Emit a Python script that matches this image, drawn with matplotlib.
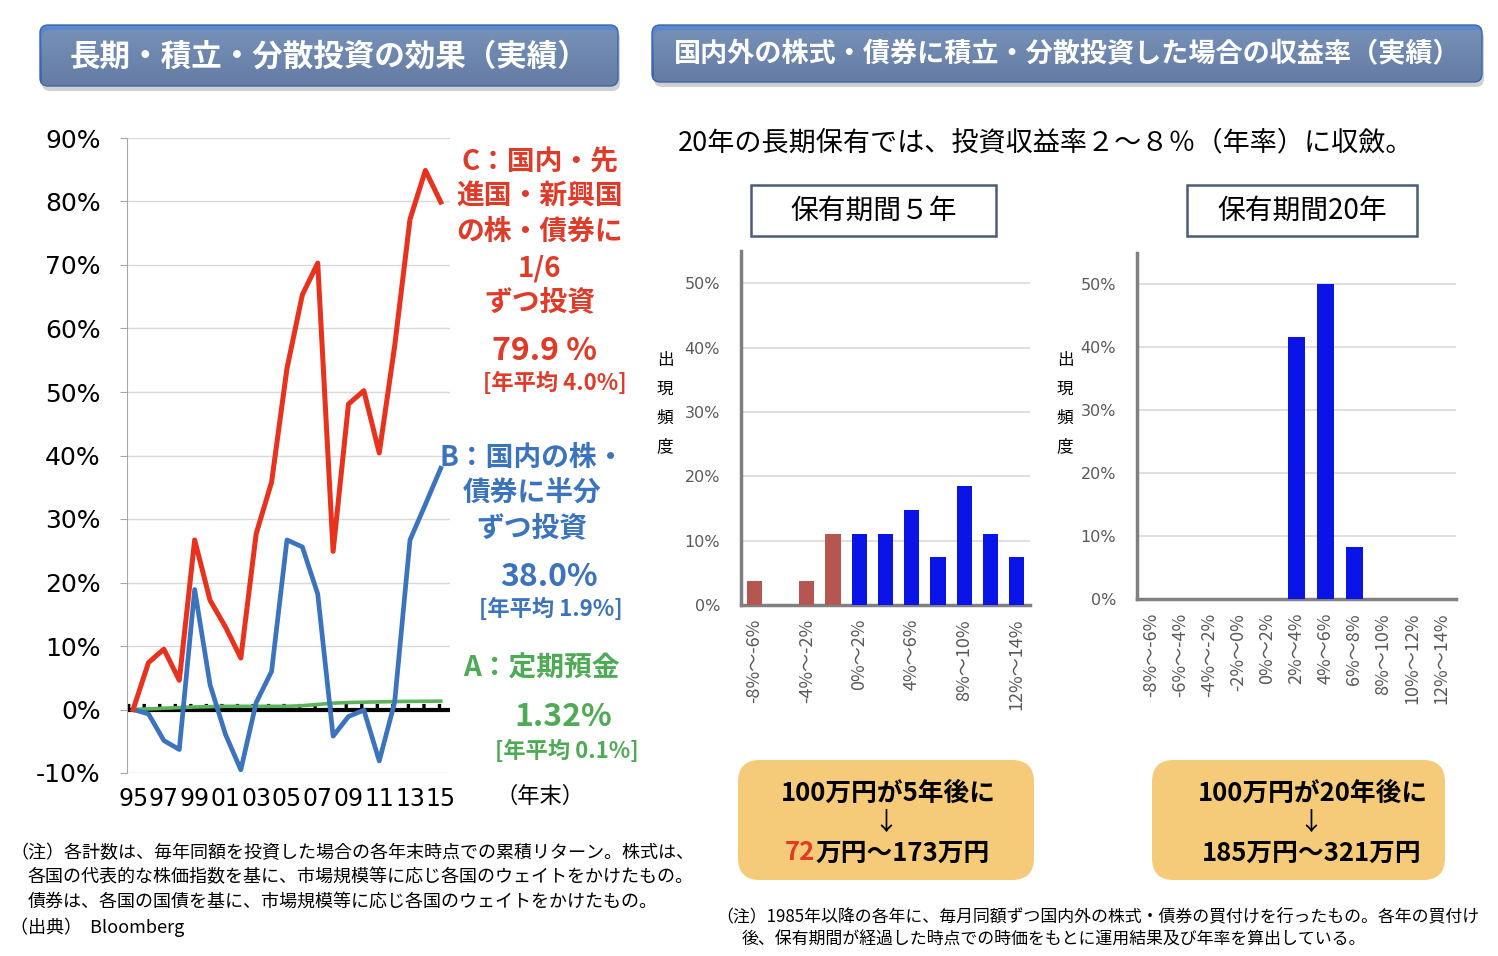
import matplotlib
matplotlib.use('Agg')
import matplotlib.pyplot as plt
import numpy as np
from matplotlib.patches import FancyBboxPatch, Rectangle
from matplotlib.colors import LinearSegmentedColormap

plt.rcParams['font.family'] = ['Noto Sans CJK JP', 'DejaVu Sans']

W, H = 1498, 956

# --- 累積リターン（年末） ---
years = list(range(1995, 2016))
ret_c = [0.0, 7.4, 9.5, 4.6, 26.7, 17.2, 13.0, 8.1, 27.7, 35.8, 53.7,
         65.3, 70.3, 24.9, 48.1, 50.2, 40.4, 57.2, 77.2, 84.9, 79.9]
ret_b = [0.0, -0.7, -4.9, -6.3, 18.9, 3.9, -3.9, -9.5, 1.1, 6.0, 26.7,
         25.6, 18.2, -4.2, -1.1, -0.1, -8.1, 1.1, 26.7, 32.3, 38.0]
ret_a = [0.0, 0.1, 0.2, 0.3, 0.4, 0.45, 0.5, 0.5, 0.5, 0.5, 0.5,
         0.6, 0.8, 1.0, 1.1, 1.15, 1.2, 1.25, 1.28, 1.3, 1.32]
year_ticks = [1995, 1997, 1999, 2001, 2003, 2005, 2007, 2009, 2011, 2013, 2015]
year_labels = ['95', '97', '99', '01', '03', '05', '07', '09', '11', '13', '15']

# --- 収益率の分布 ---
bins = ['-8%～-6%', '-6%～-4%', '-4%～-2%', '-2%～0%', '0%～2%', '2%～4%',
        '4%～6%', '6%～8%', '8%～10%', '10%～12%', '12%～14%']
freq_5y = [3.7, 0.0, 3.7, 11.1, 11.1, 11.1, 14.8, 7.4, 18.5, 11.1, 7.4]
freq_20y = [0.0, 0.0, 0.0, 0.0, 0.0, 41.7, 50.0, 8.3, 0.0, 0.0, 0.0]

fig = plt.figure(figsize=(W / 100, H / 100), dpi=100)


def frac(x0, y0, x1, y1):
    return [x0 / W, 1 - y1 / H, (x1 - x0) / W, (y1 - y0) / H]


# 左：累積リターンの推移
ax1 = fig.add_axes(frac(127, 138, 450, 773))
ax1.set_facecolor('none')
ax1.set_xlim(1994.6, 2015.6)
ax1.set_ylim(-10, 90)
ax1.set_yticks(range(-10, 91, 10))
ax1.set_yticklabels([f'{v}%' for v in range(-10, 91, 10)], family='DejaVu Sans', fontsize=18)
ax1.set_xticks(year_ticks)
ax1.set_xticklabels(year_labels, family='DejaVu Sans', fontsize=17)
ax1.tick_params(axis='y', length=5, color='#A6A6A6', pad=14)
ax1.tick_params(axis='x', length=0, pad=10)
ax1.grid(axis='y', color='#D9D9D9', lw=1)
ax1.set_axisbelow(True)
for s in ['top', 'right', 'bottom']:
    ax1.spines[s].set_visible(False)
ax1.spines['left'].set_color('#A6A6A6')
ax1.plot([1994.6, 2015.6], [0, 0], color='black', lw=3, zorder=2)
ax1.plot([1994.6, 2015.6], [0.6, 0.6], color='black', lw=3,
         linestyle=(0, (0.8, 2.93)), zorder=2)
ax1.plot(years, ret_a, color='#5CB35C', lw=2.6, zorder=3)
ax1.plot(years, ret_b, color='#3B73BD', lw=3.4, zorder=4)
ax1.plot(years, ret_c, color='#E8321E', lw=3.6, zorder=5)


def hist(rect, freq, tick_idx):
    ax = fig.add_axes(frac(*rect))
    ax.set_facecolor('none')
    x = np.arange(len(bins))
    cols = ['#B65650' if b.startswith('-') else '#0A14E6' for b in bins]
    ax.bar(x, freq, width=0.58, color=cols, zorder=3)
    ax.set_xlim(-0.5, len(bins) - 0.5)
    ax.set_ylim(0, 55)
    ax.set_yticks(range(0, 51, 10))
    ax.set_yticklabels([f'{v}%' for v in range(0, 51, 10)], family='DejaVu Sans',
                       fontsize=11.5, color='#595959')
    ax.set_xticks(tick_idx)
    ax.set_xticklabels([bins[i] for i in tick_idx], rotation=90, fontsize=13,
                       color='#595959', va='top')
    ax.tick_params(axis='y', length=0, pad=15)
    ax.tick_params(axis='x', length=0, pad=10)
    ax.grid(axis='y', color='#D9D9D9', lw=1.2)
    ax.set_axisbelow(True)
    for s in ['top', 'right']:
        ax.spines[s].set_visible(False)
    for s in ['left', 'bottom']:
        ax.spines[s].set_color('#808080')
        ax.spines[s].set_linewidth(2.5)
    return ax


hist((741, 251, 1030, 605), freq_5y, [0, 2, 4, 6, 8, 10])
hist((1137, 253, 1456, 599), freq_20y, list(range(len(bins))))

# 装飾・テキスト用のオーバーレイ
ov = fig.add_axes([0, 0, 1, 1], zorder=10)
ov.set_xlim(0, W)
ov.set_ylim(H, 0)
ov.axis('off')
ov.patch.set_alpha(0)

hdr_cmap = LinearSegmentedColormap.from_list('hdr', ['#5B8BD3', '#3A64AB'])
grad = np.linspace(0, 1, 256).reshape(-1, 1)


def header(x0, y0, x1, y1, text, size):
    sh = FancyBboxPatch((x0 + 2, y0 + 5), x1 - x0, y1 - y0,
                        boxstyle='round,pad=0,rounding_size=8',
                        fc='#9A9A9A', ec='none', alpha=0.45)
    ov.add_patch(sh)
    box = FancyBboxPatch((x0, y0), x1 - x0, y1 - y0,
                         boxstyle='round,pad=0,rounding_size=8',
                         fc='none', ec='#3D64A6', lw=1)
    ov.add_patch(box)
    im = ov.imshow(grad, extent=(x0, x1, y1, y0), cmap=hdr_cmap, aspect='auto')
    im.set_clip_path(box)
    ov.text((x0 + x1) / 2, (y0 + y1) / 2 + 1, text, color='white', fontsize=size,
            fontweight='bold', ha='center', va='center')


header(40, 25, 618, 86, '長期・積立・分散投資の効果（実績）', 22)
header(652, 25, 1482, 82, '国内外の株式・債券に積立・分散投資した場合の収益率（実績）', 19.5)
ov.set_xlim(0, W)
ov.set_ylim(H, 0)

# 左グラフの注記
red_t, blue_t, green_t = '#E03A28', '#3B73BD', '#4FAA55'
for y, s in [(162, 'C：国内・先'), (197, '進国・新興国'), (232, 'の株・債券に'),
             (268, '1/6'), (302, 'ずつ投資')]:
    ov.text(540, y, s, color=red_t, fontsize=20, fontweight='bold', ha='center', va='center')
ov.text(544, 351, '79.9 %', color=red_t, fontsize=23, fontweight='bold', ha='center', va='center')
ov.text(555, 383, '[年平均 4.0%]', color=red_t, fontsize=16, fontweight='bold', ha='center', va='center')

for y, s in [(458, 'B：国内の株・'), (493, '債券に半分'), (528, 'ずつ投資')]:
    ov.text(532, y, s, color=blue_t, fontsize=20, fontweight='bold', ha='center', va='center')
ov.text(549, 577, '38.0%', color=blue_t, fontsize=23, fontweight='bold', ha='center', va='center')
ov.text(551, 609, '[年平均 1.9%]', color=blue_t, fontsize=16, fontweight='bold', ha='center', va='center')

ov.text(541, 669, 'A：定期預金', color=green_t, fontsize=20, fontweight='bold', ha='center', va='center')
ov.text(563, 717, '1.32%', color=green_t, fontsize=23, fontweight='bold', ha='center', va='center')
ov.text(567, 751, '[年平均 0.1%]', color=green_t, fontsize=16, fontweight='bold', ha='center', va='center')
ov.text(540, 796, '（年末）', color='black', fontsize=16, ha='center', va='center')

# 右側の見出し・枠
ov.text(678, 143, '20年の長期保有では、投資収益率２～８％（年率）に収斂。',
        fontsize=19.5, ha='left', va='center')
for x0, x1, s in [(751, 996, '保有期間５年'), (1187, 1417, '保有期間20年')]:
    ov.add_patch(Rectangle((x0, 185), x1 - x0, 51, fc='white', ec='#4A5A78', lw=1.8))
    ov.text((x0 + x1) / 2, 211, s, fontsize=20, ha='center', va='center')

for x in [665, 1065]:
    ov.text(x, 404, '出\n現\n頻\n度', fontsize=12, ha='center', va='center', linespacing=1.9)

# 下段の結果ボックス
for x0, x1 in [(738, 1034), (1152, 1445)]:
    ov.add_patch(FancyBboxPatch((x0, 760), x1 - x0, 120,
                                boxstyle='round,pad=0,rounding_size=22',
                                fc='#F5CA78', ec='none'))
ov.text(888, 793, '100万円が5年後に', fontsize=18.5, fontweight='bold', ha='center', va='center')
ov.text(886, 823, '↓', fontsize=18, ha='center', va='center')
t72 = ov.text(785, 853, '72', fontsize=18.5, fontweight='bold', ha='left', va='center',
              color='#E03A28')
ov.annotate('万円～173万円', xy=(1, 0.5), xycoords=t72, fontsize=18.5,
            fontweight='bold', ha='left', va='center')
ov.text(1313, 793, '100万円が20年後に', fontsize=18.5, fontweight='bold', ha='center', va='center')
ov.text(1311, 823, '↓', fontsize=18, ha='center', va='center')
ov.text(1312, 853, '185万円～321万円', fontsize=18.5, fontweight='bold', ha='center', va='center')

# 注記
notes_left = [
    (10, 853, '（注）各計数は、毎年同額を投資した場合の各年末時点での累積リターン。株式は、'),
    (28, 877, '各国の代表的な株価指数を基に、市場規模等に応じ各国のウェイトをかけたもの。'),
    (28, 902, '債券は、各国の国債を基に、市場規模等に応じ各国のウェイトをかけたもの。'),
    (10, 927, '（出典）  Bloomberg'),
]
for x, y, s in notes_left:
    ov.text(x, y, s, fontsize=13, ha='left', va='center')
ov.text(716, 916, '（注）1985年以降の各年に、毎月同額ずつ国内外の株式・債券の買付けを行ったもの。各年の買付け',
        fontsize=12.2, ha='left', va='center')
ov.text(742, 940, '後、保有期間が経過した時点での時価をもとに運用結果及び年率を算出している。',
        fontsize=12.2, ha='left', va='center')

fig.savefig('out.png', dpi=100)
